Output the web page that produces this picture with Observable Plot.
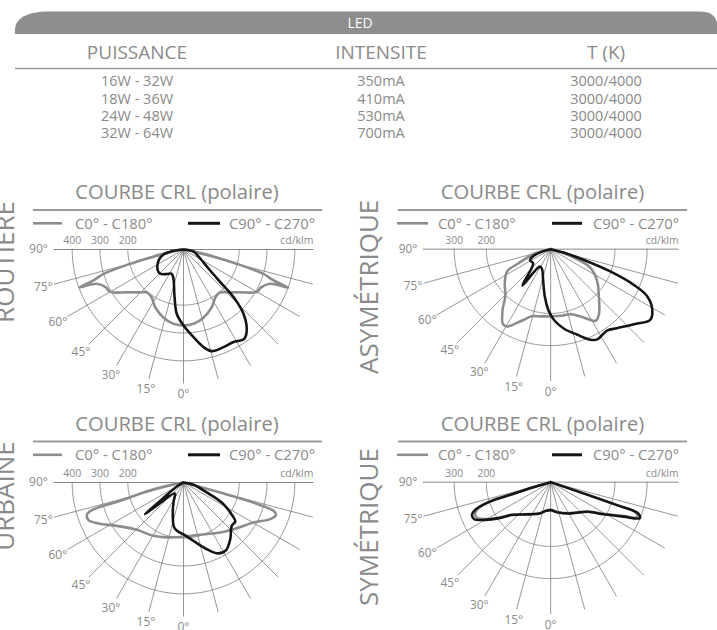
<!DOCTYPE html>
<html><head><meta charset="utf-8">
<script src="https://cdn.jsdelivr.net/npm/d3@7"></script>
<script src="https://cdn.jsdelivr.net/npm/@observablehq/plot@0.6"></script>
<style>
body{margin:0;background:#fff;font-family:"Open Sans",sans-serif;}
#page{position:relative;width:717px;height:630px;overflow:hidden;background:#fff;}
.plot{position:absolute;}
#overlay{position:absolute;left:0;top:0;}
</style></head><body><div id="page"></div>
<script>
// ---------- table data ----------
const bannerTitle = "LED";
const tableHeaders = ["PUISSANCE", "INTENSITE", "T (K)"];
const puissance = ["16W - 32W", "18W - 36W", "24W - 48W", "32W - 64W"];
const intensite = ["350mA", "410mA", "530mA", "700mA"];
const temperature = ["3000/4000", "3000/4000", "3000/4000", "3000/4000"];

// ---------- chart texts ----------
const chartTitle = "COURBE CRL (polaire)";
const seriesNames = ["C0° - C180°", "C90° - C270°"];
const unitLabel = "cd/klm";
const angleTicks = [90, 75, 60, 45, 30, 15, 0];
const spokeAngles = [-75, -60, -45, -30, -15, 0, 15, 30, 45, 60, 75];

// ---------- curve data (gamma in degrees, negative = left half; value in cd/klm) ----------
const routiere_c0_angles = [-90, -80, -78.5, -77, -75, -73, -71, -70, -68.4, -64, -60, -53, -46, -40, -34, -26, -16, -8, 0, 8, 16, 26, 34, 40, 46, 53, 60, 64, 68.4, 70, 71, 73, 75, 77, 78.5, 80, 90];
const routiere_c0_values = [0, 30, 50, 110, 200, 300, 345, 397, 335, 310, 305, 255, 222, 202, 206, 231, 256, 269, 273, 269, 256, 231, 206, 202, 222, 255, 305, 310, 335, 400, 345, 300, 200, 110, 50, 30, 0];
const routiere_c90_angles = [-90, -82, -76, -66, -51, -44, -35, -26, -19, -11, -6, 0, 6.5, 11.6, 15.6, 22.3, 28.4, 34.2, 38, 43, 46.4, 48.2, 51.8, 59, 69.4, 80, 90];
const routiere_c90_values = [0, 40, 74, 98, 119, 121, 108, 97, 111, 170, 232, 273, 317, 358, 379, 379, 378, 388, 369, 316, 248, 185, 122, 77, 51, 34, 0];

const asym_c0_angles = [-90, -74.8, -66.3, -62.9, -53.7, -44, -38.6, -32.6, -29.5, -22, -15.8, -7.8, 0, 9, 17.4, 26, 32.1, 36.6, 45.8, 55.4, 64.6, 69.3, 72.8, 90];
const asym_c0_values = [0, 51, 109, 152, 177, 203, 239, 276, 276, 240, 217, 211, 209, 210, 212, 237, 263, 252, 209, 176, 138, 89, 45, 0];
const asym_c90_angles = [-90, -74, -66.7, -61, -51, -37.8, -31.9, -23, -13.9, -7.2, -2.5, 0, 3.2, 9.8, 17.4, 23.8, 27.3, 34.7, 40, 48.4, 54.7, 59.4, 64, 66.8, 69.5, 72, 75.3, 90];
const asym_c90_values = [0, 30, 64, 73, 70, 143, 64, 68, 98, 147, 187, 204, 223, 252, 279, 308, 316, 308, 321, 351, 380, 367, 334, 280, 198, 109, 44, 0];

const urbaine_c0_angles = [-90, -77.5, -73.9, -73.2, -71.5, -68.4, -64.2, -57, -44.6, -29.4, -16.9, 0, 17.7, 36.3, 47, 60.3, 67.1, 70.8, 72.5, 74, 74.7, 90];
const urbaine_c0_values = [0, 110, 237, 344, 366, 367, 339, 286, 239, 220, 206, 195, 197, 223, 246, 290, 338, 352, 339, 261, 137, 0];
const urbaine_c90_angles = [-90, -60, -52, -50.5, -48.5, -38, -28, -20.6, -11.7, -4.6, 0, 9.7, 19.3, 26.2, 32.2, 39.5, 48.1, 53, 55.8, 62.4, 66.8, 76.9, 90];
const urbaine_c90_values = [0, 25, 100, 179, 105, 50, 75, 109, 165, 180, 186, 213, 254, 284, 287, 264, 233, 233, 213, 155, 91, 37, 0];

const sym_c0_angles = [-90, -73.6, -72.6, -72.3, -70, -67.4, -64.1, -59.9, -55.2, -49.7, -34.8, -19.2, -8.5, 0, 13.4, 33.1, 51.2, 58.8, 64.7, 68, 70.4, 70.9, 71.1, 90];
const sym_c0_values = [0, 70, 123, 196, 240, 255, 254, 228, 192, 156, 121, 102, 89, 86, 96, 115, 146, 190, 245, 290, 281, 214, 108, 0];
const sym_c90_angles = [-90, -73.6, -72.6, -72.3, -70, -67.4, -64.1, -59.9, -55.2, -49.7, -34.8, -19.2, -8.5, 0, 13.4, 33.1, 51.2, 58.8, 64.7, 68, 70.4, 70.9, 71.1, 90];
const sym_c90_values = [0, 72, 126, 201, 248, 265, 264, 234, 196, 158, 122, 103, 90, 87, 97, 116, 147, 193, 251, 299, 289, 218, 110, 0];

const routiere_rings = [200, 300, 400];
const asym_rings = [200, 300];
const urbaine_rings = [200, 300, 400];
const sym_rings = [200, 300];

const sideLabels = ["ROUTIÈRE", "ASYMÉTRIQUE", "URBAINE", "SYMÉTRIQUE"];

// ---------- layout ----------
const GRAY_TEXT = "#8a8a8a";
const charts = [
  {name: sideLabels[0], cx: 183.3, cy: 249, k: 0.2783, rings: routiere_rings,
   c0: [routiere_c0_angles, routiere_c0_values], c90: [routiere_c90_angles, routiere_c90_values],
   titleX: 177, head: 0, rule: [33, 322], legend: [33, 62, 75, 188, 220, 229],
   side: {x: 13.5, y: 262, anchor: "middle"}},
  {name: sideLabels[1], cx: 552.7, cy: 249, k: 0.327, rings: asym_rings,
   c0: [asym_c0_angles, asym_c0_values], c90: [asym_c90_angles, asym_c90_values],
   titleX: 542.5, head: 0, rule: [398, 687], legend: [397, 428, 438, 552, 582, 593],
   side: {x: 378, y: 374, anchor: "start"}},
  {name: sideLabels[2], cx: 183.3, cy: 481.7, k: 0.2783, rings: urbaine_rings,
   c0: [urbaine_c0_angles, urbaine_c0_values], c90: [urbaine_c90_angles, urbaine_c90_values],
   titleX: 177, head: 231.5, rule: [33, 322], legend: [33, 62, 75, 188, 220, 229],
   side: {x: 13.5, y: 496, anchor: "middle"}},
  {name: sideLabels[3], cx: 552.7, cy: 481.7, k: 0.327, rings: sym_rings,
   c0: [sym_c0_angles, sym_c0_values], c90: [sym_c90_angles, sym_c90_values],
   titleX: 542.5, head: 231.5, rule: [398, 687], legend: [397, 428, 438, 552, 582, 593],
   side: {x: 378, y: 606, anchor: "start"}}
];

const page = document.getElementById("page");
const rad = g => g * Math.PI / 180;

function polarPlot(ch) {
  const W = 340, H = 180, ox = 170, oy = 20;
  const u = px => px / ch.k;
  const ringPts = [];
  for (const v of ch.rings) for (let g = -90; g <= 90; g += 1) ringPts.push({ring: v, g});
  const series = (arr, key) => arr[0].map((g, i) => ({g, r: arr[1][i], key}));
  const c0 = series(ch.c0, "c0"), c90 = series(ch.c90, "c90");
  const X = d => d.r * Math.sin(rad(d.g));
  const Y = d => -d.r * Math.cos(rad(d.g));
  return Plot.plot({
    width: W, height: H, margin: 0,
    x: {domain: [-u(ox), u(W - ox)], axis: null},
    y: {domain: [-u(H - oy), u(oy)], axis: null},
    style: {background: "transparent", overflow: "visible", fontFamily: "Open Sans"},
    marks: [
      Plot.line(ringPts, {x: d => d.ring * Math.sin(rad(d.g)), y: d => -d.ring * Math.cos(rad(d.g)), z: "ring", stroke: "#7a7a7a", strokeWidth: 0.8}),
      Plot.link(spokeAngles, {x1: 0, y1: 0, x2: g => u(134) * Math.sin(rad(g)), y2: g => -u(134) * Math.cos(rad(g)), stroke: "#7a7a7a", strokeWidth: 0.8}),
      Plot.link([0], {x1: -u(130), y1: 0, x2: u(130), y2: 0, stroke: "#7a7a7a", strokeWidth: 0.9}),
      Plot.text(angleTicks, {x: a => -u(145) * Math.sin(rad(a)), y: a => -u(145) * Math.cos(rad(a)), text: a => a + "°", fill: GRAY_TEXT, fontSize: 12}),
      Plot.text(ch.rings, {x: v => -v, y: u(9), text: v => String(v), fill: GRAY_TEXT, fontSize: 10.5}),
      Plot.text([unitLabel], {x: u(130), y: u(9), text: d => d, textAnchor: "end", fill: GRAY_TEXT, fontSize: 10.5}),
      Plot.line(c0, {x: X, y: Y, stroke: "#8c8c8c", strokeWidth: 2.6, curve: "catmull-rom", strokeLinejoin: "round"}),
      Plot.line(c90, {x: X, y: Y, stroke: "#151515", strokeWidth: 2.6, curve: "catmull-rom", strokeLinejoin: "round"})
    ]
  });
}

// overlay svg for banner, table, titles, legends, side labels
const NS = "http://www.w3.org/2000/svg";
const svg = document.createElementNS(NS, "svg");
svg.setAttribute("id", "overlay");
svg.setAttribute("width", 717); svg.setAttribute("height", 630);
svg.style.fontFamily = "'Open Sans', sans-serif";
page.appendChild(svg);
function el(tag, attrs, text) {
  const e = document.createElementNS(NS, tag);
  for (const k in attrs) e.setAttribute(k, attrs[k]);
  if (text != null) e.textContent = text;
  svg.appendChild(e);
  return e;
}
// banner
el("path", {d: "M15,34 L15,30 C15,18 28,11.5 48,11.5 L700,11.5 C710,11.5 716.5,16 717,24 L717,34 Z", fill: "#8e8e8e"});
el("text", {x: 360, y: 27.5, "text-anchor": "middle", "font-size": 14, fill: "#fff"}, bannerTitle);
const colX = [137, 381, 606];
tableHeaders.forEach((h, i) => el("text", {x: colX[i], y: 59, "text-anchor": "middle", "font-size": 19, fill: GRAY_TEXT}, h));
el("line", {x1: 15, x2: 717, y1: 68.5, y2: 68.5, stroke: "#999", "stroke-width": 1.6});
const rowY = [86.4, 103.6, 120.8, 138.2];
[puissance, intensite, temperature].forEach((col, i) => col.forEach((t, j) =>
  el("text", {x: colX[i], y: rowY[j], "text-anchor": "middle", "font-size": 14.5, fill: GRAY_TEXT}, t)));

for (const ch of charts) {
  const h = ch.head;
  el("text", {x: ch.titleX, y: 199 + h, "text-anchor": "middle", "font-size": 20.2, fill: GRAY_TEXT}, chartTitle);
  el("line", {x1: ch.rule[0], x2: ch.rule[1], y1: 210 + h, y2: 210 + h, stroke: "#999", "stroke-width": 2});
  const L = ch.legend, ly = 223.3 + h;
  el("line", {x1: L[0], x2: L[1], y1: ly, y2: ly, stroke: "#8c8c8c", "stroke-width": 2.6});
  el("text", {x: L[2], y: ly + 5.6, "font-size": 14.8, fill: GRAY_TEXT}, seriesNames[0]);
  el("line", {x1: L[3], x2: L[4], y1: ly, y2: ly, stroke: "#151515", "stroke-width": 3});
  el("text", {x: L[5], y: ly + 5.6, "font-size": 14.8, fill: GRAY_TEXT}, seriesNames[1]);
  el("text", {transform: `translate(${ch.side.x},${ch.side.y}) rotate(-90)`, "text-anchor": ch.side.anchor, "font-size": 26, fill: GRAY_TEXT}, ch.name);

  const div = document.createElement("div");
  div.className = "plot";
  div.style.left = (ch.cx - 170) + "px";
  div.style.top = (ch.cy - 20) + "px";
  div.appendChild(polarPlot(ch));
  page.appendChild(div);
}
</script></body></html>
